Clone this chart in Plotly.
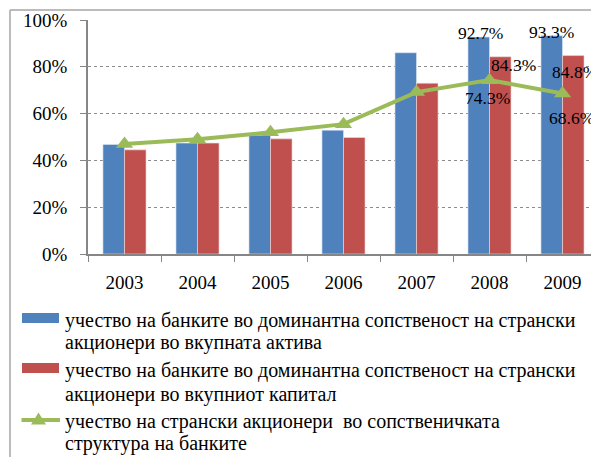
import plotly.graph_objects as go

years = ["2003", "2004", "2005", "2006", "2007", "2008", "2009"]
assets = [0.468, 0.474, 0.508, 0.529, 0.860, 0.927, 0.933]
capital = [0.445, 0.474, 0.492, 0.498, 0.730, 0.843, 0.848]
ownership = [0.470, 0.490, 0.520, 0.555, 0.692, 0.743, 0.686]

legend_lines = [
    ["учество на банките во доминантна сопственост на странски", "акционери во вкупната актива"],
    ["учество на банките во доминантна сопственост на странски", "акционери во вкупниот капитал"],
    ["учество на странски акционери  во сопственичката", "структура на банките"],
]
y_ticks = [0, 0.2, 0.4, 0.6, 0.8, 1.0]

BLUE = "#4F81BD"
RED = "#C0504D"
GREEN = "#9BBB59"
FONT = "Liberation Serif"

OFF = 8
W, H = 599 - OFF, 457 - OFF
PLOT_X0, PLOT_X1, PLOT_Y0, PLOT_Y1 = 88, 599, 20, 254
L, R, T = PLOT_X0 - OFF, 0, PLOT_Y0 - OFF
B = H - (PLOT_Y1 - OFF)
PW = W - L - R
PH = H - T - B


def px(xp):
    return (xp - PLOT_X0) / PW


def py(yp):
    return (PLOT_Y1 - yp) / PH


fig = go.Figure()
fig.add_trace(go.Bar(x=years, y=assets, marker=dict(color=BLUE, line=dict(color="#dbe5f1", width=0.6)),
                     showlegend=False))
fig.add_trace(go.Bar(x=years, y=capital, marker=dict(color=RED, line=dict(color="#f2dcdb", width=0.6)),
                     showlegend=False))
fig.add_trace(go.Scatter(x=years, y=ownership, mode="lines+markers",
                         line=dict(color=GREEN, width=4),
                         marker=dict(symbol="triangle-up", size=15, color=GREEN),
                         showlegend=False))

cat_w = PW / len(years)
bar_off = cat_w * 0.59 / 4
labels = [
    (5, assets[5], "92.7%", -bar_off + 2, 4),
    (5, capital[5], "84.3%", bar_off + 13, -8),
    (5, ownership[5], "74.3%", -2, -18),
    (6, assets[6], "93.3%", -bar_off, 4),
    (6, capital[6], "84.8%", bar_off + 1, -16),
    (6, ownership[6], "68.6%", 9, -24.5),
]
for xi, yv, txt, dx, dy in labels:
    fig.add_annotation(x=xi, y=yv, xref="x", yref="y", text=txt, showarrow=False,
                       xshift=dx, yshift=dy, font=dict(family=FONT, size=17.5, color="black"))

shapes = []
shapes.append(dict(type="line", xref="paper", yref="paper", x0=px(10), x1=px(620), y0=py(10), y1=py(10),
                   line=dict(color="#a6a6a6", width=1.5)))
shapes.append(dict(type="line", xref="paper", yref="paper", x0=px(10), x1=px(10), y0=py(10), y1=py(470),
                   line=dict(color="#a6a6a6", width=1.5)))

line_y = [(320, 342), (370, 394), (421, 443)]
shapes.append(dict(type="rect", xref="paper", yref="paper", x0=px(22), x1=px(59), y0=py(313), y1=py(323),
                   fillcolor=BLUE, line=dict(width=0)))
shapes.append(dict(type="rect", xref="paper", yref="paper", x0=px(22), x1=px(59), y0=py(363), y1=py(373),
                   fillcolor=RED, line=dict(width=0)))
shapes.append(dict(type="line", xref="paper", yref="paper", x0=px(21.5), x1=px(60), y0=py(420), y1=py(420),
                   line=dict(color=GREEN, width=4)))
shapes.append(dict(type="path", xref="paper", yref="paper",
                   path=f"M {px(31)},{py(424.5)} L {px(46)},{py(424.5)} L {px(38.5)},{py(412.5)} Z",
                   fillcolor=GREEN, line=dict(width=0)))

for (ya, yb), lines in zip(line_y, legend_lines):
    for yy, t in zip((ya, yb), lines):
        fig.add_annotation(x=px(62.5), y=py(yy), xref="paper", yref="paper", text=t, showarrow=False,
                           xanchor="left", yanchor="middle", align="left",
                           font=dict(family=FONT, size=20, color="black"))

fig.update_layout(
    width=W, height=H,
    margin=dict(l=L, r=R, t=T, b=B, pad=0, autoexpand=False),
    paper_bgcolor="white", plot_bgcolor="white",
    barmode="group", bargap=0.41, bargroupgap=0,
    shapes=shapes,
    font=dict(family=FONT, size=16, color="black"),
    showlegend=False,
)
fig.update_xaxes(type="category", automargin=False, tickangle=0, range=[-0.5, 6.5],
                 showline=True, linecolor="#868686", linewidth=1.5, ticks="outside", ticklen=6,
                 tickcolor="#868686", tickson="boundaries", showgrid=False, ticklabelstandoff=10,
                 tickfont=dict(family=FONT, size=19, color="black"))
fig.update_yaxes(automargin=False, range=[0, 1], tickvals=y_ticks, tickformat=".0%", showline=True,
                 linecolor="#868686", ticklabelstandoff=9,
                 linewidth=1.5, ticks="outside", ticklen=6, tickcolor="#868686",
                 showgrid=True, gridcolor="#8c8c8c", griddash="dot", gridwidth=1,
                 zeroline=False, tickfont=dict(family=FONT, size=19, color="black"))

fig.write_html("out.html")
